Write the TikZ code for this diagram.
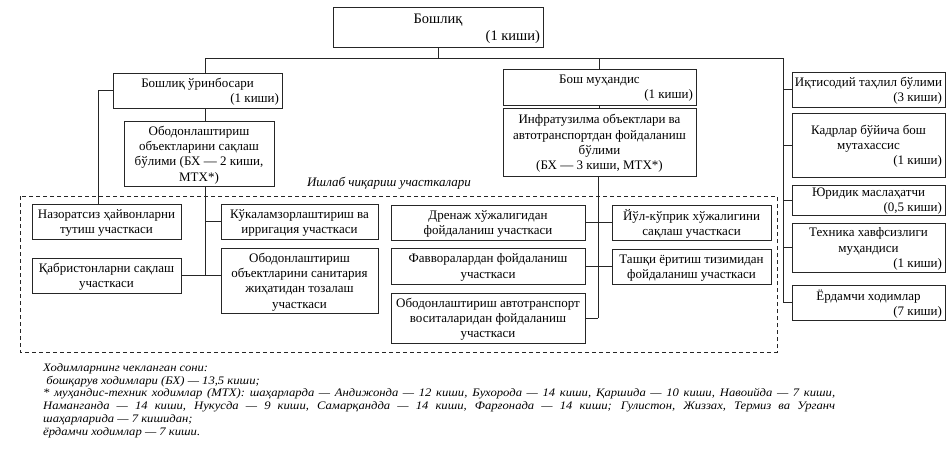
\documentclass[tikz,border=0pt]{standalone}
\usepackage{fontspec}
\setmainfont{Liberation Serif}
\newfontfamily\notefont[FakeStretch=1.1]{Liberation Serif}
\newcommand\rl[2]{\makebox[#1][r]{#2}}
\begin{document}
\begin{tikzpicture}[x=1pt,y=-1pt,
  box/.style={draw=black!85, line width=0.9pt, align=center, inner xsep=2pt, inner ysep=1pt,
    text depth=0pt, font=\fontsize{13}{15.3}\selectfont},
  conn/.style={draw=black!85, line width=0.9pt},
  zone/.style={draw=black!85, line width=0.9pt, dash pattern=on 4pt off 3pt}]
\useasboundingbox (0,0) rectangle (949,450);
\fill[white] (0,0) rectangle (949,450);

% boxes
\node[box, minimum width=210pt, minimum height=40pt, font=\fontsize{14.5}{17}\selectfont] (top) at (438,27) {Бошлиқ\\\rl{204pt}{(1 киши)}};
\node[box, minimum width=169pt, minimum height=35pt] (dep) at (197.5,90.5) {Бошлиқ ўринбосари\\\rl{163pt}{(1 киши)}};
\node[box, minimum width=150pt, minimum height=65pt] (dept1) at (199,153.5) {Ободонлаштириш\\объектларини сақлаш\\бўлими (БХ — 2 киши,\\МТХ*)};
\node[box, minimum width=149pt, minimum height=35pt] (naz) at (106.5,221.5) {Назоратсиз ҳайвонларни\\тутиш участкаси};
\node[box, minimum width=149pt, minimum height=35pt] (qab) at (106.5,275.5) {Қабристонларни сақлаш\\участкаси};
\node[box, minimum width=157pt, minimum height=35pt] (kuk) at (299.5,221.5) {Кўкаламзорлаштириш ва\\ирригация участкаси};
\node[box, minimum width=157pt, minimum height=65pt] (san) at (299.5,280.5) {Ободонлаштириш\\объектларини санитария\\жиҳатидан тозалаш\\участкаси};

\node[box, minimum width=193pt, minimum height=36pt] (eng) at (599.5,87) {Бош муҳандис\\\rl{187pt}{(1 киши)}};
\node[box, minimum width=193pt, minimum height=68pt] (infra) at (599.5,142) {Инфратузилма объектлари ва\\автотранспортдан фойдаланиш\\бўлими\\(БХ — 3 киши, МТХ*)};
\node[box, minimum width=194pt, minimum height=35pt] (dren) at (488,222.5) {Дренаж хўжалигидан\\фойдаланиш участкаси};
\node[box, minimum width=194pt, minimum height=36pt] (fav) at (488,266) {Фавворалардан фойдаланиш\\участкаси};
\node[box, minimum width=194pt, minimum height=50pt] (avto) at (488,318) {Ободонлаштириш автотранспорт\\воситаларидан фойдаланиш\\участкаси};
\node[box, minimum width=159pt, minimum height=35pt] (yul) at (691.5,222.5) {Йўл-кўприк хўжалигини\\сақлаш участкаси};
\node[box, minimum width=159pt, minimum height=35pt] (tash) at (691.5,266.5) {Ташқи ёритиш тизимидан\\фойдаланиш участкаси};

\node[box, minimum width=153pt, minimum height=35pt] (iqt) at (868.5,89.5) {Иқтисодий таҳлил бўлими\\\rl{147pt}{(3 киши)}};
\node[box, minimum width=153pt, minimum height=64pt] (kad) at (868.5,145) {Кадрлар бўйича бош\\мутахассис\\\rl{147pt}{(1 киши)}};
\node[box, minimum width=153pt, minimum height=30pt] (yur) at (868.5,200) {Юридик маслаҳатчи\\\rl{147pt}{(0,5 киши)}};
\node[box, minimum width=153pt, minimum height=49pt] (tech) at (868.5,247.5) {Техника хавфсизлиги\\муҳандиси\\\rl{147pt}{(1 киши)}};
\node[box, minimum width=153pt, minimum height=35pt] (erd) at (868.5,302.5) {Ёрдамчи ходимлар\\\rl{147pt}{(7 киши)}};

% production zone
\draw[zone] (20,196) rectangle (777,352);
\node[font=\fontsize{13}{15}\selectfont\itshape] (zonelbl) at (389,183) {Ишлаб чиқариш участкалари};

% connectors
\coordinate (busL) at (205,58);
\coordinate (busR) at (783,58);
\coordinate (busE) at (599,58);
\coordinate (dl) at (98,0);
\coordinate (ev) at (598,0);
\path[conn] (top.south) -- (top.south |- busL);
\path[conn] (busL) -- (busR);
\path[conn] (busL) -- (busL |- dep.north);
\path[conn] (busL |- dep.south) -- (busL |- dept1.north);
\path[conn] (busL |- dept1.south) -- (busL |- qab.east);
\path[conn] (busL |- kuk.west) -- (kuk.west);
\path[conn] (qab.east) -- (san.west |- qab.east);
\path[conn] (dep.west) -| (dl |- naz.north);
\path[conn] (busE) -- (busE |- eng.north);
\path[conn] (busE |- eng.south) -- (busE |- infra.north);
\path[conn] (ev |- infra.south) -- (ev |- avto.east);
\path[conn] (avto.east) -- (ev |- avto.east);
\path[conn] (dren.east) -- (yul.west);
\path[conn] (fav.east) -- (tash.west |- fav.east);
\path[conn] (busR) -- (busR |- erd.west);
\foreach \b in {iqt,kad,yur,tech,erd} \path[conn] (busR |- \b.west) -- (\b.west);

% notes
\node[anchor=north west, text width=792pt, inner sep=0pt, align=justify,
  font=\notefont\itshape\fontsize{11.5}{12.9}\selectfont] (notes) at (43,363) {%
\parindent=0pt
Ходимларнинг чекланган сони:\par
\ бошқарув ходимлари (БХ) — 13,5 киши;\par
* муҳандис-техник ходимлар (МТХ): шаҳарларда — Андижонда — 12 киши, Бухорода — 14 киши, Қаршида — 10 киши, Навоийда — 7 киши,\linebreak
Наманганда — 14 киши, Нукусда — 9 киши, Самарқандда — 14 киши, Фарғонада — 14 киши; Гулистон, Жиззах, Термиз ва Урганч\linebreak
шаҳарларида — 7 кишидан;\par
ёрдамчи ходимлар — 7 киши.\par};
\end{tikzpicture}
\end{document}
